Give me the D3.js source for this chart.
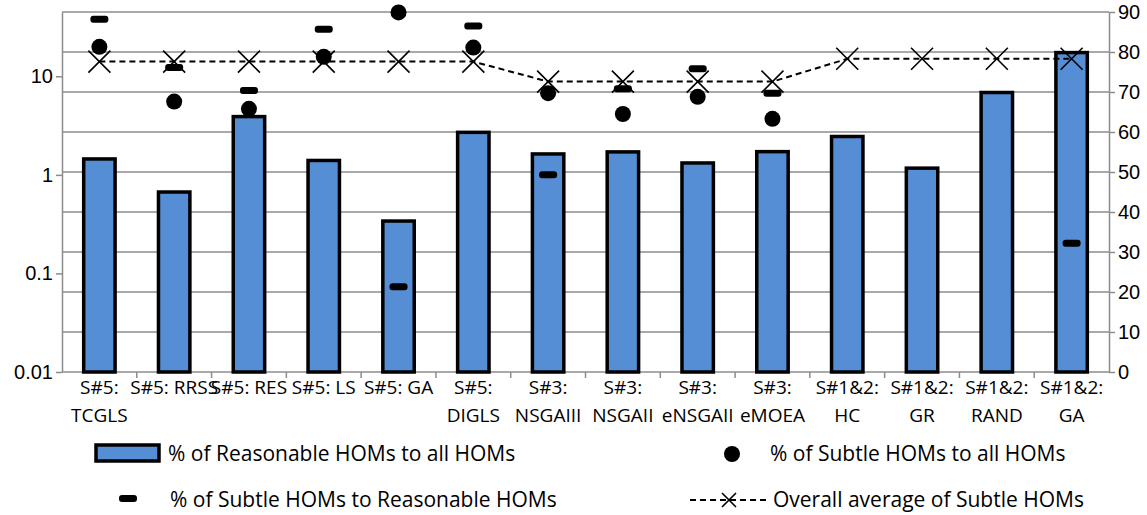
<!DOCTYPE html>
<html>
<head>
<meta charset="utf-8">
<script src="https://cdn.jsdelivr.net/npm/d3@7"></script>
<style>
  body { margin: 0; background: #fff; }
  svg { font-family: "Open Sans", sans-serif; display: block; }
</style>
</head>
<body>
<svg width="1147" height="515"></svg>
<script>
const categories = ['S#5: TCGLS', 'S#5: RRSS', 'S#5: RES', 'S#5: LS', 'S#5: GA', 'S#5: DIGLS',
    'S#3: NSGAIII', 'S#3: NSGAII', 'S#3: eNSGAII', 'S#3: eMOEA',
    'S#1&2: HC', 'S#1&2: GR', 'S#1&2: RAND', 'S#1&2: GA'];
// labels split onto lines as in the picture
const labelLines = [['S#5:', 'TCGLS'], ['S#5: RRSS'], ['S#5: RES'], ['S#5: LS'], ['S#5: GA'], ['S#5:', 'DIGLS'],
    ['S#3:', 'NSGAIII'], ['S#3:', 'NSGAII'], ['S#3:', 'eNSGAII'], ['S#3:', 'eMOEA'],
    ['S#1&2:', 'HC'], ['S#1&2:', 'GR'], ['S#1&2:', 'RAND'], ['S#1&2:', 'GA']];

// left log axis
const reasonableAll = [1.45, 0.67, 3.9, 1.4, 0.34, 2.7, 1.63, 1.71, 1.32, 1.72, 2.45, 1.17, 6.85, 17.4];
// right linear axis
const subtleAll = [81.3, 67.6, 65.8, 78.8, 89.9, 81.1, 69.7, 64.5, 68.8, 63.3, null, null, null, null];
const subtleReasonable = [88.2, 76.1, 70.4, 85.7, 21.3, 86.5, 49.3, 70.8, 75.8, 69.7, null, null, null, 32.2];
const overallAvg = [77.6, 77.6, 77.6, 77.6, 77.6, 77.6, 72.6, 72.6, 72.6, 72.6, 78.3, 78.3, 78.3, 78.3];

const leftTicks = [0.01, 0.1, 1, 10];
const rightTicks = [0, 10, 20, 30, 40, 50, 60, 70, 80, 90];

const svg = d3.select('svg');
const margin = { top: 12, right: 38, bottom: 143, left: 62 };
const width = 1147, height = 515;
const innerWidth = width - margin.left - margin.right;
const innerHeight = height - margin.top - margin.bottom;
const gridColor = '#8c8c8c';

const xScale = d3.scaleBand().domain(categories).range([0, innerWidth]);
const yLeft = d3.scaleLog().domain([0.01, 44.9]).range([innerHeight, 0]);
const yRight = d3.scaleLinear().domain([0, 90]).range([innerHeight, 0]);
const cx = c => xScale(c) + xScale.bandwidth() / 2;

const g = svg.append('g').attr('transform', `translate(${margin.left}, ${margin.top})`);

// gridlines from right axis
g.append('g').selectAll('line').data(rightTicks.slice(1)).enter().append('line')
    .attr('x1', 0).attr('x2', innerWidth)
    .attr('y1', d => yRight(d)).attr('y2', d => yRight(d))
    .attr('stroke', gridColor).attr('stroke-width', 1.5);

const styleAxis = sel => {
    sel.select('.domain').attr('stroke', gridColor).attr('stroke-width', 1.5);
    sel.selectAll('.tick line').attr('stroke', gridColor).attr('stroke-width', 1.5);
    sel.selectAll('.tick text').attr('fill', '#000').style('font-size', '20px');
};

g.append('g')
    .call(d3.axisLeft(yLeft).tickValues(leftTicks).tickFormat(d3.format('~g')).tickSize(6).tickSizeOuter(0).tickPadding(3))
    .call(styleAxis);

g.append('g').attr('transform', `translate(${innerWidth},0)`)
    .call(d3.axisRight(yRight).tickValues(rightTicks).tickSize(6).tickSizeOuter(0).tickPadding(3))
    .call(styleAxis);

// bottom axis with ticks at category boundaries
const xAxisG = g.append('g').attr('transform', `translate(0,${innerHeight})`);
xAxisG.append('line').attr('x1', 0).attr('x2', innerWidth).attr('stroke', gridColor).attr('stroke-width', 1.5);
xAxisG.selectAll('.bt').data(categories.slice(1)).enter().append('line')
    .attr('x1', d => xScale(d)).attr('x2', d => xScale(d))
    .attr('y1', 0).attr('y2', 6).attr('stroke', gridColor).attr('stroke-width', 1.5);
xAxisG.selectAll('.lbl').data(categories).enter().append('text')
    .attr('text-anchor', 'middle')
    .style('font-size', '19px')
    .attr('transform', d => `translate(${cx(d)},0)`)
    .each(function(d, i) {
        const t = d3.select(this);
        labelLines[i].forEach((ln, j) => {
            t.append('tspan').attr('x', 0).attr('y', 22 + j * 28).text(ln);
        });
    });

// bars
const barW = xScale.bandwidth() * 0.42;
g.selectAll('rect.bar').data(reasonableAll).enter().append('rect')
    .attr('x', (d, i) => cx(categories[i]) - barW / 2)
    .attr('y', d => yLeft(d))
    .attr('width', barW)
    .attr('height', d => innerHeight - yLeft(d))
    .attr('fill', '#558ed5')
    .attr('stroke', '#000').attr('stroke-width', 3.5);

// overall average line
const lineData = overallAvg.map((v, i) => ({ c: categories[i], v }));
g.append('path').datum(lineData)
    .attr('d', d3.line().x(d => cx(d.c)).y(d => yRight(d.v)))
    .attr('fill', 'none').attr('stroke', '#000').attr('stroke-width', 2).attr('stroke-dasharray', '6,4');

const xMark = (sel, s) => sel.attr('d', `M${-s},${-s}L${s},${s}M${-s},${s}L${s},${-s}`)
    .attr('stroke', '#000').attr('stroke-width', 1.6).attr('fill', 'none');
g.selectAll('path.xm').data(lineData).enter().append('path')
    .attr('transform', d => `translate(${cx(d.c)},${yRight(d.v)})`)
    .call(xMark, 11);

// subtle to reasonable (dash markers)
const dashData = subtleReasonable.map((v, i) => ({ c: categories[i], v })).filter(d => d.v != null);
g.selectAll('rect.dash').data(dashData).enter().append('rect')
    .attr('x', d => cx(d.c) - 9).attr('y', d => yRight(d.v) - 3.5)
    .attr('width', 18).attr('height', 7).attr('rx', 3)
    .attr('fill', '#000');

// subtle to all (circles)
const dotData = subtleAll.map((v, i) => ({ c: categories[i], v })).filter(d => d.v != null);
g.selectAll('circle.dot').data(dotData).enter().append('circle')
    .attr('cx', d => cx(d.c)).attr('cy', d => yRight(d.v)).attr('r', 8)
    .attr('fill', '#000');

// legend
const lg = svg.append('g').style('font-size', '21px');
lg.append('rect').attr('x', 96).attr('y', 445).attr('width', 63).attr('height', 16)
    .attr('fill', '#558ed5').attr('stroke', '#000').attr('stroke-width', 3.5);
lg.append('text').attr('x', 168).attr('y', 461).text('% of Reasonable HOMs to all HOMs');

lg.append('circle').attr('cx', 732).attr('cy', 454).attr('r', 8).attr('fill', '#000');
lg.append('text').attr('x', 770).attr('y', 461).text('% of Subtle HOMs to all HOMs');

lg.append('rect').attr('x', 119).attr('y', 495).attr('width', 18).attr('height', 7).attr('rx', 3).attr('fill', '#000');
lg.append('text').attr('x', 170).attr('y', 507).text('% of Subtle HOMs to Reasonable HOMs');

lg.append('line').attr('x1', 690).attr('x2', 767).attr('y1', 500).attr('y2', 500)
    .attr('stroke', '#000').attr('stroke-width', 2).attr('stroke-dasharray', '6,4');
lg.append('path').attr('transform', 'translate(729,500)').call(xMark, 7);
lg.append('text').attr('x', 773).attr('y', 507).text('Overall average of Subtle HOMs');
</script>
</body>
</html>
